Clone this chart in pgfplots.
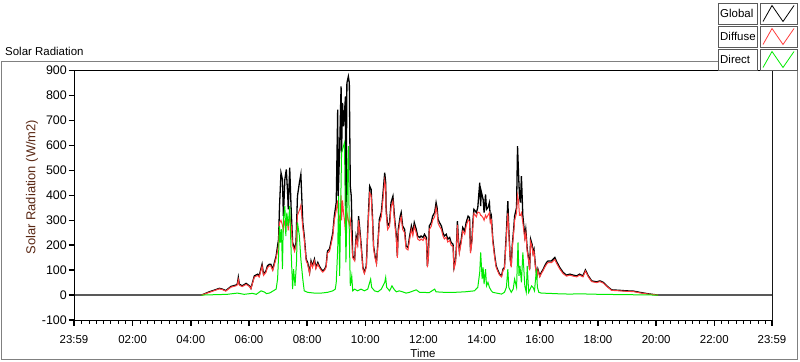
\documentclass[border=0pt]{standalone}
\usepackage{fontspec}
\setmainfont{Liberation Sans}
\usepackage{pgfplots}
\pgfplotsset{compat=1.18}
\definecolor{gred}{RGB}{255,60,60}
\definecolor{ggreen}{RGB}{0,235,0}
\definecolor{ylab}{RGB}{90,40,20}
\definecolor{framegray}{RGB}{128,128,128}
\begin{document}
\begin{tikzpicture}[x=1bp,y=1bp]
\path[use as bounding box] (0,0) rectangle (800,-361);
\draw[framegray, line width=1bp] (718,-61) -- (1,-61) -- (1,-359.5) -- (797,-359.5) -- (797,-70);
\node[anchor=base west, inner sep=0, font=\fontsize{11.5}{13}\selectfont] at (5,-55) {Solar Radiation};
\begin{axis}[at={(74bp,-320bp)}, anchor=south west, scale only axis,
  width=698bp, height=249.3bp,
  xmin=-1, xmax=1439, ymin=-100, ymax=900,
  xtick={-1,120,240,360,480,600,720,840,960,1080,1200,1320,1439},
  xticklabels={23:59,02:00,04:00,06:00,08:00,10:00,12:00,14:00,16:00,18:00,20:00,22:00,23:59},
  minor xtick={15,30,...,1425},
  ytick={-100,0,...,900},
  tick align=outside, xtick pos=left, ytick pos=left,
  major tick length=5.5bp, minor tick length=3.5bp,
  every major tick/.append style={line width=1.5bp, black},
  every minor tick/.append style={line width=0.8bp, black},
  axis line style={line width=1bp, black},
  /pgf/number format/assume math mode=true,
  xticklabel style={font=\fontsize{11.5}{13}\selectfont, inner sep=2bp, yshift=-8bp},
  yticklabel style={font=\fontsize{12.5}{14}\selectfont, inner sep=1.5bp},
  xlabel={Time},
  xlabel style={font=\fontsize{11.5}{13}\selectfont, at={(axis description cs:0.5,0)}, anchor=north, inner sep=0pt, yshift=-29bp},
  ylabel={Solar Radiation (W/m2)},
  ylabel style={font=\fontsize{13}{15}\selectfont, text=ylab, at={(axis description cs:-0.0602,0.533)}, anchor=center},
  clip=true,
]
\addplot[black, line width=1.3bp] coordinates {(-1,0)(262,0)(278,13)(299,27)(305,24)(312,18)(323,35)(333,40)(336,45)(338,71)(340,44)(346,37)(354,47)(361,37)(364,27)(371,77)(378,84)(381,77)(387,124)(390,84)(395,97)(398,117)(402,124)(405,124)(409,104)(416,157)(421,224)(423,357)(426,491)(429,464)(431,317)(434,464)(437,504)(440,397)(441,344)(444,511)(447,344)(450,211)(454,184)(457,211)(460,397)(464,451)(467,484)(471,291)(474,237)(478,144)(481,131)(485,91)(488,137)(491,117)(495,144)(498,111)(502,131)(505,117)(509,104)(512,97)(516,104)(519,117)(522,177)(526,184)(529,211)(533,251)(536,317)(540,371)(543,744)(544,397)(547,584)(549,757)(550,837)(551,571)(553,771)(555,677)(557,731)(559,797)(560,277)(562,851)(565,877)(567,851)(569,437)(571,397)(574,157)(578,144)(581,237)(584,211)(586,317)(588,277)(591,211)(595,111)(598,91)(602,117)(605,264)(609,437)(612,424)(615,304)(617,197)(620,157)(623,131)(626,211)(629,304)(633,331)(636,397)(640,491)(642,451)(643,344)(646,277)(650,291)(653,371)(657,397)(660,317)(664,237)(666,157)(668,264)(672,317)(674,331)(677,277)(681,264)(684,197)(688,191)(691,231)(695,277)(698,251)(701,291)(705,264)(708,237)(712,231)(715,237)(719,231)(722,244)(726,231)(728,117)(730,157)(732,277)(736,291)(739,317)(743,331)(746,371)(748,351)(750,304)(753,291)(757,277)(760,251)(763,237)(767,244)(770,224)(774,231)(777,211)(781,204)(783,111)(786,137)(788,197)(790,297)(792,224)(794,177)(798,224)(801,271)(805,257)(808,291)(812,317)(815,311)(817,177)(820,224)(822,297)(824,344)(827,337)(829,331)(832,351)(836,451)(838,357)(839,417)(843,384)(845,331)(848,404)(850,344)(853,351)(856,371)(858,304)(860,317)(863,224)(867,157)(870,117)(874,97)(877,84)(881,77)(884,104)(887,111)(891,251)(894,377)(896,264)(899,144)(901,117)(903,197)(906,264)(908,317)(912,351)(914,597)(916,491)(918,397)(920,371)(922,477)(925,317)(929,237)(931,264)(934,184)(937,144)(939,104)(941,224)(944,204)(946,171)(948,184)(951,117)(954,77)(956,104)(960,77)(963,91)(967,104)(970,117)(974,131)(977,137)(984,137)(991,151)(994,137)(1001,111)(1008,91)(1015,80)(1022,84)(1029,80)(1036,77)(1042,84)(1049,77)(1054,101)(1060,77)(1067,57)(1077,53)(1084,57)(1091,51)(1098,37)(1108,21)(1125,19)(1139,17)(1153,16)(1166,11)(1184,5)(1204,0)(1439,0)};
\addplot[gred, line width=1bp] coordinates {(262,0)(278,11)(299,25)(305,22)(312,16)(323,32)(333,37)(336,41)(338,62)(340,40)(346,34)(354,43)(361,34)(364,25)(371,72)(378,79)(381,72)(387,116)(390,79)(395,91)(398,110)(402,117)(405,117)(409,98)(416,148)(421,200)(423,290)(426,300)(429,280)(431,260)(434,300)(437,310)(440,280)(441,260)(444,320)(447,280)(450,200)(454,175)(457,200)(460,320)(464,340)(467,360)(471,270)(474,225)(478,137)(481,124)(485,86)(488,130)(491,111)(495,137)(498,105)(502,124)(505,111)(509,99)(512,92)(516,99)(519,111)(522,168)(526,175)(529,200)(533,238)(536,300)(540,340)(543,380)(544,330)(547,300)(549,330)(550,400)(551,300)(553,380)(555,330)(557,300)(559,250)(560,240)(562,330)(565,300)(567,280)(569,300)(571,250)(574,150)(578,137)(581,225)(584,200)(586,300)(588,263)(591,200)(595,105)(598,86)(602,111)(605,250)(609,410)(612,400)(615,289)(617,187)(620,149)(623,124)(626,200)(629,289)(633,314)(636,377)(640,460)(642,430)(643,327)(646,263)(650,276)(653,352)(657,377)(660,301)(664,225)(666,149)(668,250)(672,301)(674,314)(677,263)(681,250)(684,187)(688,181)(691,219)(695,263)(698,238)(701,276)(705,250)(708,225)(712,219)(715,225)(719,219)(722,232)(726,219)(728,111)(730,149)(732,263)(736,276)(739,301)(743,314)(746,352)(748,333)(750,289)(753,276)(757,263)(760,238)(763,225)(767,232)(770,213)(774,219)(777,200)(781,194)(783,105)(786,130)(788,187)(790,282)(792,213)(794,168)(798,213)(801,257)(805,244)(808,276)(812,301)(815,295)(817,168)(820,213)(822,282)(824,327)(827,320)(829,314)(832,333)(836,330)(838,320)(839,320)(843,310)(845,300)(848,320)(850,310)(853,320)(856,330)(858,290)(860,300)(863,213)(867,149)(870,111)(874,92)(877,80)(881,73)(884,99)(887,105)(891,238)(894,330)(896,250)(899,137)(901,111)(903,187)(906,250)(908,300)(912,330)(914,400)(916,380)(918,320)(920,320)(922,330)(925,290)(929,225)(931,250)(934,175)(937,137)(939,99)(941,213)(944,194)(946,162)(948,175)(951,111)(954,73)(956,99)(960,73)(963,86)(967,99)(970,111)(974,124)(977,130)(984,130)(991,143)(994,130)(1001,105)(1008,86)(1015,76)(1022,80)(1029,76)(1036,73)(1042,80)(1049,73)(1054,96)(1060,73)(1067,54)(1077,50)(1084,54)(1091,48)(1098,35)(1108,19)(1125,17)(1139,15)(1153,14)(1166,9)(1184,4)(1204,0)};
\addplot[ggreen, line width=1bp] coordinates {(262,0)(315,3)(336,8)(350,3)(367,7)(375,3)(385,17)(392,12)(396,6)(402,8)(405,11)(416,24)(419,64)(421,157)(423,277)(425,211)(427,264)(429,104)(431,304)(434,357)(436,237)(438,331)(441,277)(444,357)(447,171)(450,24)(452,104)(455,37)(458,131)(460,291)(464,237)(467,144)(471,64)(474,17)(481,11)(495,8)(509,8)(522,11)(533,17)(538,24)(540,51)(543,184)(545,397)(547,77)(549,331)(551,571)(557,611)(560,131)(564,531)(565,597)(567,237)(569,37)(572,77)(574,17)(578,24)(584,17)(591,24)(598,17)(605,24)(611,64)(613,31)(619,17)(626,13)(633,24)(640,51)(642,71)(644,31)(650,17)(655,37)(659,24)(664,13)(670,17)(677,13)(684,8)(691,11)(705,21)(712,11)(732,10)(743,24)(746,13)(763,11)(784,11)(805,13)(825,17)(832,31)(836,91)(838,171)(841,64)(843,111)(845,44)(848,104)(850,37)(853,51)(856,31)(860,17)(863,11)(881,4)(887,11)(891,31)(894,104)(896,31)(901,11)(905,24)(908,64)(912,31)(915,211)(917,77)(919,117)(922,51)(925,171)(929,37)(932,11)(934,117)(937,11)(943,37)(946,31)(949,17)(953,104)(955,31)(958,11)(963,8)(977,7)(1001,5)(1022,4)(1042,5)(1084,3)(1125,2)(1166,1)(1204,0)};
\draw[gray!60, line width=1bp] (rel axis cs:1,0) -- (rel axis cs:1,1);
\end{axis}
\foreach \t/\c/\yy in {Global/black/13.5, Diffuse/gred/36.5, Direct/ggreen/59.5} {
  \draw[black!65, line width=1bp, fill=white] (718,-\yy+10.5) rectangle (757,-\yy-10.5);
  \node[anchor=west, inner sep=0, font=\fontsize{11.5}{13}\selectfont] at (720,-\yy) {\t};
  \draw[black!65, line width=1bp, fill=white] (760,-\yy+10.5) rectangle (797,-\yy-10.5);
  \draw[\c, line width=0.8bp] (763,-\yy-8) -- (772,-\yy+8) -- (783,-\yy-8) -- (794,-\yy+8);
}
\end{tikzpicture}
\end{document}
